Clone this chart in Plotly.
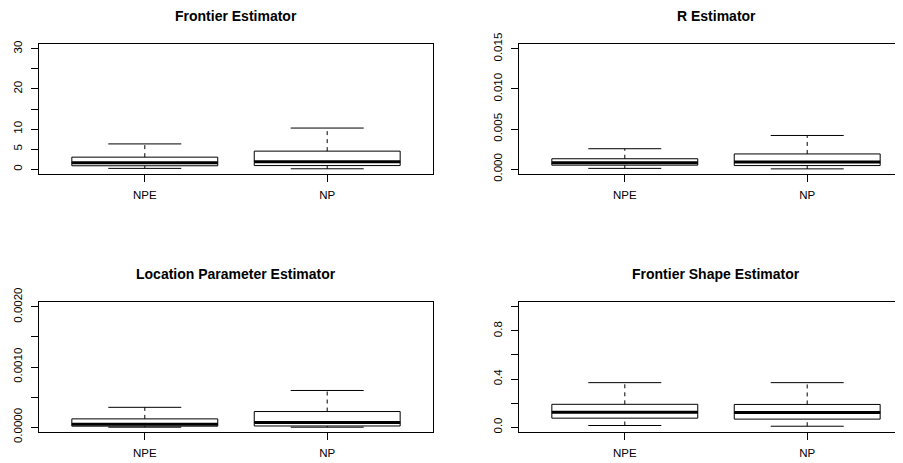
import plotly.graph_objects as go

categories = ["NPE", "NP"]

titles = ["Frontier Estimator", "R Estimator",
          "Location Parameter Estimator", "Frontier Shape Estimator"]

# box statistics per panel: [NPE, NP]
frontier_lower = [0.2, 0.1]
frontier_q1 = [0.85, 0.9]
frontier_median = [1.6, 1.85]
frontier_q3 = [3.0, 4.5]
frontier_upper = [6.3, 10.25]

r_lower = [0.0001, 0.00004]
r_q1 = [0.0005, 0.00045]
r_median = [0.00079, 0.00088]
r_q3 = [0.0013, 0.0019]
r_upper = [0.00255, 0.0042]

loc_lower = [0.0, 0.0]
loc_q1 = [0.000017, 0.00002]
loc_median = [0.00005, 0.000078]
loc_q3 = [0.000138, 0.00026]
loc_upper = [0.00033, 0.00061]

shape_lower = [0.014, 0.008]
shape_q1 = [0.075, 0.067]
shape_median = [0.125, 0.122]
shape_q3 = [0.19, 0.189]
shape_upper = [0.37, 0.37]

# y-axis ticks and labels
frontier_ticks = [0, 5, 10, 15, 20, 25, 30]
frontier_ticktext = ["0", "5", "10", "", "20", "", "30"]
r_ticks = [0, 0.005, 0.010, 0.015]
r_ticktext = ["0.000", "0.005", "0.010", "0.015"]
loc_ticks = [0, 0.0005, 0.0010, 0.0015, 0.0020]
loc_ticktext = ["0.0000", "", "0.0010", "", "0.0020"]
shape_ticks = [0, 0.2, 0.4, 0.6, 0.8, 1.0]
shape_ticktext = ["0.0", "", "0.4", "", "0.8", ""]

ylims = [(0, 30), (0, 0.015), (0, 0.002), (0, 1.0)]

panels = [
    (frontier_lower, frontier_q1, frontier_median, frontier_q3, frontier_upper, frontier_ticks, frontier_ticktext),
    (r_lower, r_q1, r_median, r_q3, r_upper, r_ticks, r_ticktext),
    (loc_lower, loc_q1, loc_median, loc_q3, loc_upper, loc_ticks, loc_ticktext),
    (shape_lower, shape_q1, shape_median, shape_q3, shape_upper, shape_ticks, shape_ticktext),
]

# the page body has an 8px margin, so the figure is drawn 8px in from the window edge
OFF = 8
W, H = 903 - OFF, 463 - OFF
# pixel layout of each plot region in window coords (left, right, top, bottom)
regions = [(39, 433, 44, 174), (519, 903, 44, 174),
           (39, 433, 302, 432), (519, 903, 302, 432)]
title_y = [16, 16, 274, 274]
PX_PER_UNIT = 394 / 2.16

fig = go.Figure()
FONT = "Liberation Sans, Arial, Helvetica, sans-serif"
xpos = [1, 2]
boxw = 0.8

for i, (lo, q1, med, q3, up, tv, tt) in enumerate(panels):
    n = i + 1
    xa = "x" if n == 1 else f"x{n}"
    ya = "y" if n == 1 else f"y{n}"
    fig.add_trace(go.Box(
        x=xpos, q1=q1, median=med, q3=q3, lowerfence=q1, upperfence=q3,
        width=boxw, whiskerwidth=0, boxpoints=False,
        line=dict(color="black", width=1), fillcolor="white",
        xaxis=xa, yaxis=ya, showlegend=False, hoverinfo="skip"))
    # dashed whiskers
    wx, wy = [], []
    for k in range(2):
        wx += [xpos[k], xpos[k], None, xpos[k], xpos[k], None]
        wy += [q3[k], up[k], None, lo[k], q1[k], None]
    fig.add_trace(go.Scatter(x=wx, y=wy, mode="lines",
                             line=dict(color="black", width=1, dash="4px,4px"),
                             xaxis=xa, yaxis=ya, showlegend=False, hoverinfo="skip"))
    # staples
    sx, sy = [], []
    for k in range(2):
        for v in (up[k], lo[k]):
            sx += [xpos[k] - boxw / 4, xpos[k] + boxw / 4, None]
            sy += [v, v, None]
    fig.add_trace(go.Scatter(x=sx, y=sy, mode="lines",
                             line=dict(color="black", width=1),
                             xaxis=xa, yaxis=ya, showlegend=False, hoverinfo="skip"))
    # thick medians
    mx, my = [], []
    for k in range(2):
        mx += [xpos[k] - boxw / 2, xpos[k] + boxw / 2, None]
        my += [med[k], med[k], None]
    fig.add_trace(go.Scatter(x=mx, y=my, mode="lines",
                             line=dict(color="black", width=3),
                             xaxis=xa, yaxis=ya, showlegend=False, hoverinfo="skip"))

    L, R, T, B = [v - OFF for v in regions[i]]
    ymin, ymax = ylims[i]
    ext = 0.04 * (ymax - ymin)
    xr = [0.42, 0.42 + (R - L) / PX_PER_UNIT]
    right_panel = (n % 2 == 0)
    xkey = "xaxis" if n == 1 else f"xaxis{n}"
    ykey = "yaxis" if n == 1 else f"yaxis{n}"
    fig.layout[xkey] = dict(
        domain=[L / W, min(R / W, 1.0)], anchor=ya, range=xr, automargin=False,
        tickvals=xpos, ticktext=categories, ticks="outside", ticklen=7,
        ticklabelstandoff=3,
        tickcolor="black", showline=True, mirror=True, linecolor="black",
        linewidth=1, showgrid=False, zeroline=False, fixedrange=True,
        tickfont=dict(family=FONT, size=11.5, color="black"))
    fig.layout[ykey] = dict(
        domain=[(H - B) / H, (H - T) / H], anchor=xa,
        range=[ymin - ext, ymax + ext], automargin=False,
        tickvals=tv, ticktext=tt, ticks="outside", ticklen=7,
        ticklabelstandoff=4,
        tickcolor="black", tickangle=-90, showline=True,
        mirror=(not right_panel), linecolor="black", linewidth=1,
        showgrid=False, zeroline=False, fixedrange=True,
        tickfont=dict(family=FONT, size=11.5, color="black"))
    cx = (L + (L + 394)) / 2
    fig.add_annotation(text="<b>" + titles[i] + "</b>", xref="paper", yref="paper",
                       x=cx / W, y=(H - (title_y[i] - OFF)) / H, xanchor="center",
                       yanchor="middle", showarrow=False,
                       font=dict(family=FONT, size=14, color="black"))

fig.update_layout(width=W, height=H, margin=dict(l=0, r=0, t=0, b=0),
                  plot_bgcolor="white", paper_bgcolor="white",
                  showlegend=False)

fig.write_html("out.html")
